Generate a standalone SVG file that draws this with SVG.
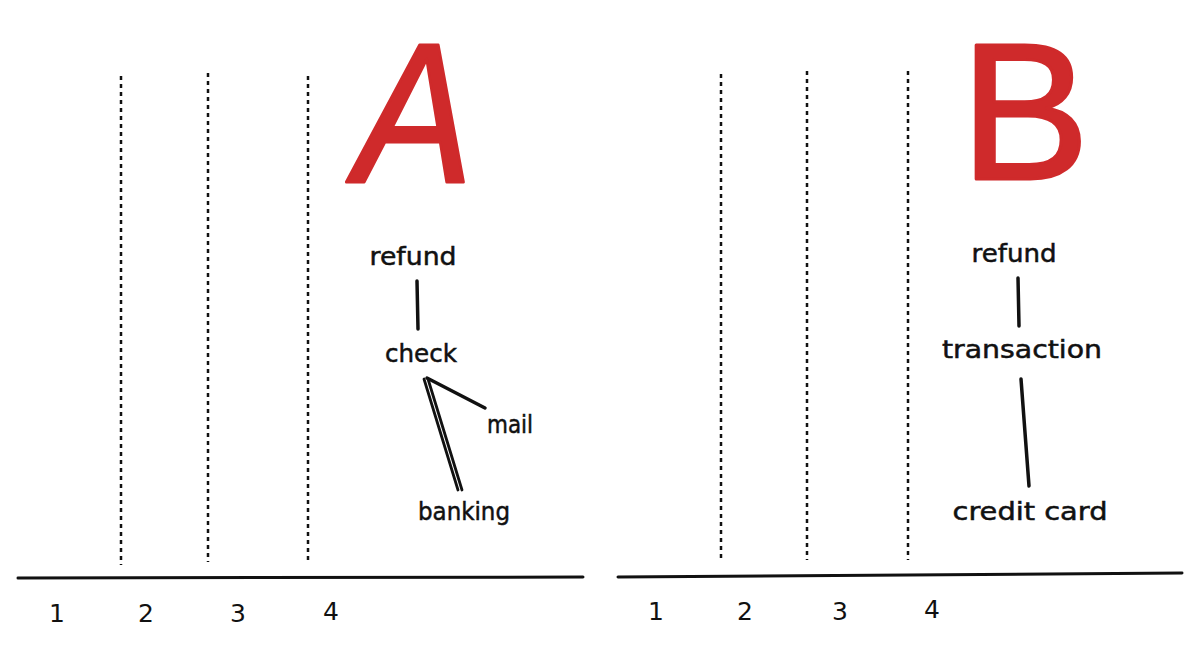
<svg xmlns="http://www.w3.org/2000/svg" width="1200" height="653" viewBox="0 0 1200 653">
<style>
.lbl{font-family:"DejaVu Sans","Liberation Sans",sans-serif;font-size:24px;fill:#111;stroke:#111;stroke-width:0.5;text-anchor:middle}
.num{font-family:"DejaVu Sans","Liberation Sans",sans-serif;font-size:25px;fill:#111;text-anchor:middle}
.big{font-family:"Liberation Sans",Arial,sans-serif;fill:#cf2a2b;stroke:#cf2a2b;stroke-width:3;stroke-linejoin:round;text-anchor:middle}
.dot{stroke:#111;stroke-width:2.5;stroke-dasharray:4 4;fill:none}
.axis{stroke:#111;stroke-width:3;stroke-linecap:round;fill:none}
.edge{stroke:#111;stroke-width:3.5;stroke-linecap:round;fill:none}
.edge2{stroke:#111;stroke-width:2.8;stroke-linecap:round;fill:none}
</style>
<rect width="1200" height="653" fill="#fff"/>
<g id="gridA">
<line class="dot" x1="121" y1="76" x2="121" y2="565"/>
<line class="dot" x1="208" y1="73" x2="208" y2="562"/>
<line class="dot" x1="308" y1="76" x2="308" y2="563"/>
<line class="axis" x1="18" y1="578" x2="583" y2="577"/>
<text class="num" x="57" y="622">1</text>
<text class="num" x="146" y="622">2</text>
<text class="num" x="238" y="622">3</text>
<text class="num" x="331" y="620">4</text>
</g>
<g id="gridB">
<line class="dot" x1="721" y1="74" x2="721" y2="562"/>
<line class="dot" x1="807" y1="71" x2="807" y2="560"/>
<line class="dot" x1="908" y1="71" x2="908" y2="560"/>
<line class="axis" x1="618" y1="577" x2="1182" y2="573"/>
<text class="num" x="656" y="620">1</text>
<text class="num" x="745" y="620">2</text>
<text class="num" x="840" y="620">3</text>
<text class="num" x="932" y="618">4</text>
</g>
<g id="titleA"><text class="big" font-style="italic" font-size="198" x="414" y="182" textLength="118" lengthAdjust="spacingAndGlyphs">A</text></g>
<g id="titleB"><text class="big" font-size="194" x="1025" y="179">B</text></g>
<g id="connectors">
<line class="edge" x1="417" y1="281" x2="418" y2="329"/>
<line class="edge" x1="427" y1="378" x2="485" y2="408"/>
<line class="edge2" x1="424" y1="379" x2="458" y2="490"/>
<line class="edge2" x1="428" y1="379" x2="462" y2="490"/>
<line class="edge" x1="1018" y1="278" x2="1019" y2="326"/>
<line class="edge" x1="1021" y1="379" x2="1029" y2="486"/>
</g>
<g id="a-refund"><text class="lbl" x="413" y="265" textLength="87" lengthAdjust="spacingAndGlyphs">refund</text></g>
<g id="a-check"><text class="lbl" x="421" y="362" textLength="72" lengthAdjust="spacingAndGlyphs">check</text></g>
<g id="a-mail"><text class="lbl" x="510" y="433" textLength="46" lengthAdjust="spacingAndGlyphs">mail</text></g>
<g id="a-banking"><text class="lbl" x="464" y="520" textLength="92" lengthAdjust="spacingAndGlyphs">banking</text></g>
<g id="b-refund"><text class="lbl" x="1014" y="262" textLength="85" lengthAdjust="spacingAndGlyphs">refund</text></g>
<g id="b-transaction"><text class="lbl" x="1022" y="358" textLength="160" lengthAdjust="spacingAndGlyphs">transaction</text></g>
<g id="b-credit-card"><text class="lbl" x="1030" y="520" textLength="155" lengthAdjust="spacingAndGlyphs">credit card</text></g>
</svg>
